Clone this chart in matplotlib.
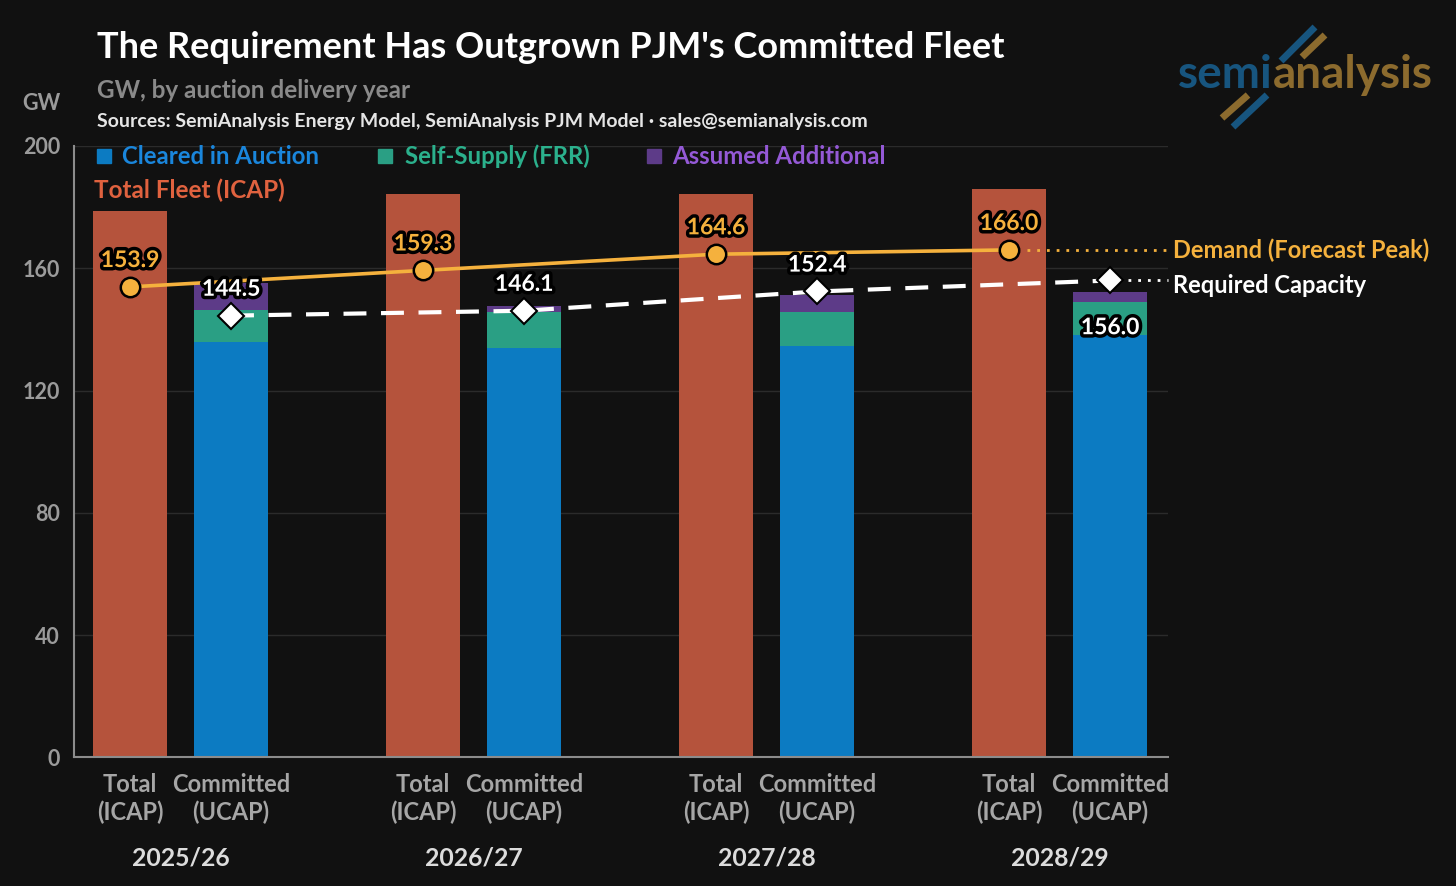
import numpy as np
import matplotlib
matplotlib.use("Agg")
import matplotlib.pyplot as plt
import matplotlib.patheffects as pe
from matplotlib.lines import Line2D
from matplotlib.transforms import blended_transform_factory

plt.rcParams['font.family'] = ['Lato', 'DejaVu Sans']

# data (GW)
years = ["2025/26", "2026/27", "2027/28", "2028/29"]
total_icap = [178.8, 184.2, 184.2, 186.0]
cleared = [135.8, 133.9, 134.5, 138.3]
self_supply = [10.7, 11.9, 11.3, 10.8]
assumed = [8.7, 1.9, 5.3, 3.1]
demand = [153.9, 159.3, 164.6, 166.0]
required = [144.5, 146.1, 152.4, 156.0]
bar_top = ["Total", "Committed"]
bar_bottom = ["(ICAP)", "(UCAP)"]
yticks = [0, 40, 80, 120, 160, 200]
legend_names = ["Cleared in Auction", "Self-Supply (FRR)", "Assumed Additional"]

W, H = 1456, 886
BG = "#111111"
RED = "#b5533c"
BLUE = "#0c7bc2"
GREEN = "#2a9f84"
PURPLE = "#5d3b88"
ORANGE = "#f5b13d"
GRAY = "#9b9b9b"
legend_colors = ["#1a86dc", "#2bb08c", "#9459d6"]
bar_colors = [BLUE, GREEN, PURPLE]

def fx(px):
  return px / W

def fy(py):
  return 1 - py / H

stroke = [pe.withStroke(linewidth=5, foreground="black")]

fig = plt.figure(figsize=(W / 100, H / 100), dpi=100, facecolor=BG)
ax = fig.add_axes([fx(74), fy(757.3), (1168 - 74) / W, (757.3 - 146) / H])
ax.set_facecolor(BG)

x = np.arange(len(years))
off = 0.1724
bw = 0.25
ax.bar(x - off, total_icap, bw, color=RED, zorder=2)
ax.bar(x + off, cleared, bw, color=BLUE, zorder=2)
ax.bar(x + off, self_supply, bw, bottom=cleared, color=GREEN, zorder=2)
ax.bar(x + off, assumed, bw, bottom=np.array(cleared) + np.array(self_supply), color=PURPLE, zorder=2)

ax.set_xlim(-0.3635, 3.370)
ax.set_ylim(0, 200)
xr = ax.get_xlim()[1]

# demand line
ax.plot(x - off, demand, color=ORANGE, lw=2.6, zorder=5)
ax.plot(x - off, demand, ls="none", marker="o", ms=14, mfc=ORANGE, mec="black", mew=1.8, zorder=6)
ax.plot([x[-1] - off + 0.06, xr], [demand[-1]] * 2, color=ORANGE, lw=2, dashes=(1, 2.5), clip_on=False, zorder=4)

# required capacity
ax.plot(x + off, required, color="white", lw=3, dashes=(5.5, 3.5), zorder=4)
ax.plot([x[-1] + off + 0.06, xr], [required[-1]] * 2, color="white", lw=2, dashes=(1, 2.5), clip_on=False, zorder=4)
ax.plot(x + off, required, ls="none", marker="D", ms=13, mfc="white", mec="black", mew=1.5, zorder=6)

for xi, v in zip(x - off, demand):
  ax.annotate(f"{v:.1f}", (xi, v), xytext=(0, 19), textcoords="offset points", ha="center", va="center",
              fontsize=16.5, fontweight="bold", color=ORANGE, path_effects=stroke, zorder=8)
req_offsets = [19, 19, 19, -34]
for xi, v, dy in zip(x + off, required, req_offsets):
  ax.annotate(f"{v:.1f}", (xi, v), xytext=(0, dy), textcoords="offset points", ha="center", va="center",
              fontsize=16.5, fontweight="bold", color="white", path_effects=stroke, zorder=8)

# right side labels
tr = blended_transform_factory(ax.transAxes, ax.transData)
ax.text(1.0046, demand[-1], "Demand (Forecast Peak)", transform=tr, ha="left", va="center",
        fontsize=17, fontweight="bold", color=ORANGE)
ax.text(1.0046, required[-1] - 1.8, "Required Capacity", transform=tr, ha="left", va="center",
        fontsize=17, fontweight="bold", color="white")

# axes styling
for s in ["top", "right"]:
  ax.spines[s].set_visible(False)
for s in ["left", "bottom"]:
  ax.spines[s].set_color("#8c8c8c")
  ax.spines[s].set_linewidth(1.5)
ax.set_yticks(yticks)
ax.set_yticklabels([str(t) for t in yticks], fontsize=15.5, fontweight="bold", color=GRAY)
ax.tick_params(axis="y", length=0, pad=10)
ax.set_xticks([])
ax.grid(axis="y", color="#2b2b2b", lw=1, zorder=0)
ax.set_axisbelow(True)

# x labels
tx = blended_transform_factory(ax.transData, fig.transFigure)
for xi in x:
  for j, p in enumerate([xi - off, xi + off]):
    ax.text(p, fy(785), bar_top[j], transform=tx, ha="center", va="center", fontsize=17,
            fontweight="bold", color="#a6a6a6")
    ax.text(p, fy(812), bar_bottom[j], transform=tx, ha="center", va="center", fontsize=17,
            fontweight="bold", color="#a6a6a6")
  ax.text(xi, fy(858), years[xi], transform=tx, ha="center", va="center", fontsize=17.8,
          fontweight="bold", color="#dcdcdc")

# legend
sq_x = [103.5, 384.5, 653.5]
txt_x = [122, 405, 672]
for i in range(3):
  fig.add_artist(Line2D([fx(sq_x[i])], [fy(156)], marker="s", ms=10, color=bar_colors[i],
                        ls="none", transform=fig.transFigure))
  fig.text(fx(txt_x[i]), fy(156), legend_names[i], ha="left", va="center", fontsize=17.2,
           fontweight="bold", color=legend_colors[i])
fig.text(fx(94), fy(190), "Total Fleet (ICAP)", ha="left", va="center", fontsize=17.5,
         fontweight="bold", color="#e0623f")

# titles
fig.text(fx(97), fy(48), "The Requirement Has Outgrown PJM's Committed Fleet", ha="left", va="center",
         fontsize=26, fontweight="bold", color="white")
fig.text(fx(97), fy(90), "GW, by auction delivery year", ha="left", va="center",
         fontsize=17.5, fontweight="bold", color="#8a8a8a")
fig.text(fx(97), fy(122), "Sources: SemiAnalysis Energy Model, SemiAnalysis PJM Model \u00b7 sales@semianalysis.com",
         ha="left", va="center", fontsize=14, fontweight="bold", color="#e6e6e6")
fig.text(fx(41), fy(103), "GW", ha="center", va="center", fontsize=15.5, fontweight="bold", color=GRAY)

# logo
LOGO_BLUE = "#17557f"
LOGO_GOLD = "#8c6b2e"
r = fig.canvas.get_renderer()
t1 = fig.text(fx(1178), fy(88), "semi", ha="left", va="baseline", fontsize=33, fontweight="bold", color=LOGO_BLUE)
bb = t1.get_window_extent(r)
fig.text(bb.x1 / W, fy(88), "analysis", ha="left", va="baseline", fontsize=33, fontweight="bold", color=LOGO_GOLD)
for (x0, y0, x1, y1), c in [((1281, 61, 1315, 27), LOGO_BLUE), ((1302, 57, 1325, 35), LOGO_GOLD),
                            ((1222, 118, 1248, 95), LOGO_GOLD), ((1233, 127, 1267, 95), LOGO_BLUE)]:
  fig.add_artist(Line2D([fx(x0), fx(x1)], [fy(y0), fy(y1)], lw=5, color=c, solid_capstyle="butt",
                        transform=fig.transFigure))

fig.savefig("out.png", dpi=100, facecolor=BG)
